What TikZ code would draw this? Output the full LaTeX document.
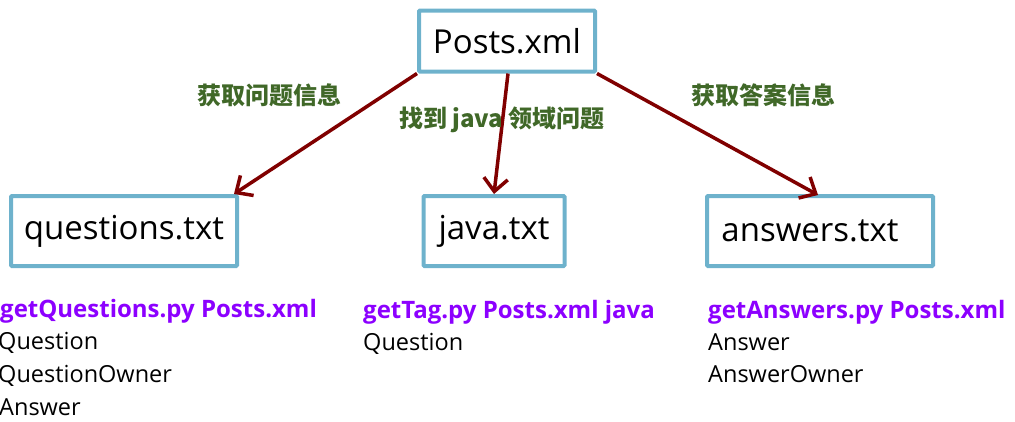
\documentclass[tikz,border=0pt]{standalone}
\usepackage{fontspec}
\setmainfont{Open Sans}
\newfontfamily\cjk{Noto Sans CJK SC}
\usetikzlibrary{arrows.meta,positioning}

\definecolor{boxblue}{RGB}{110,178,204}
\definecolor{flowred}{RGB}{128,0,0}
\definecolor{stepgreen}{RGB}{64,104,40}
\definecolor{cmdpurple}{RGB}{140,0,255}

\begin{document}
\begin{tikzpicture}[x=1pt,y=-1pt]
       \tikzstyle{file}=[draw=boxblue, line width=4pt, rounded corners=1pt,
                         minimum height=70pt, inner sep=0pt,
                         font=\fontsize{33}{38}\selectfont]
       \tikzstyle{flow}=[draw=flowred, line width=3.5pt,
                         -{Straight Barb[length=13pt,width=24pt]}]
       \tikzstyle{lbl}=[text=stepgreen, font=\cjk\bfseries\fontsize{24}{27}\selectfont]
       \tikzstyle{cmd}=[anchor=base west, inner sep=0pt, text=cmdpurple,
                        font=\bfseries\fontsize{24}{28}\selectfont]
       \tikzstyle{item}=[anchor=base west, inner sep=0pt,
                         font=\fontsize{23.5}{28}\selectfont]

       \useasboundingbox (0,0) rectangle (1015,421);

       \node[file, minimum width=176pt, minimum height=61pt] (posts) at (507,41) {Posts.xml};
       \node[file, minimum width=226pt] (quest) at (124,231) {questions.txt};
       \node[file, minimum width=141pt] (java)  at (494,231) {java.txt};
       \node[file, minimum width=226pt] (answ)  at (820,231) {answers.txt\hspace{20pt}\null};

       \coordinate (t_q) at (234,194);
       \coordinate (t_j) at (494,194);
       \coordinate (t_a) at (818,195);

       \draw[flow] (posts.south west) -- (t_q);
       \draw[flow] ([xshift=1pt]posts.south) -- (t_j);
       \draw[flow] (posts.south east) -- (t_a);

       \node[lbl] (l_q) at (269,95)  {获取问题信息};
       \node[lbl] (l_j) at (502,120) {找到 java 领域问题};
       \node[lbl] (l_a) at (763,95)  {获取答案信息};

       % scripts and the fields they write
       \node[cmd]  (c_q)   at (0,317)   {getQuestions.py Posts.xml};
       \node[item] (c_q1)  at (-2,349)  {Question};
       \node[item] (c_q2)  at (-2,382)  {QuestionOwner};
       \node[item] (c_q3)  at (-1,415)  {Answer};

       \node[cmd]  (c_j)   at (363,318) {getTag.py Posts.xml java};
       \node[item] (c_j1)  at (363,350) {Question};

       \node[cmd]  (c_a)   at (708,318) {getAnswers.py Posts.xml};
       \node[item] (c_a1)  at (708,350) {Answer};
       \node[item] (c_a2)  at (708,382) {AnswerOwner};
     \end{tikzpicture}
\end{document}
